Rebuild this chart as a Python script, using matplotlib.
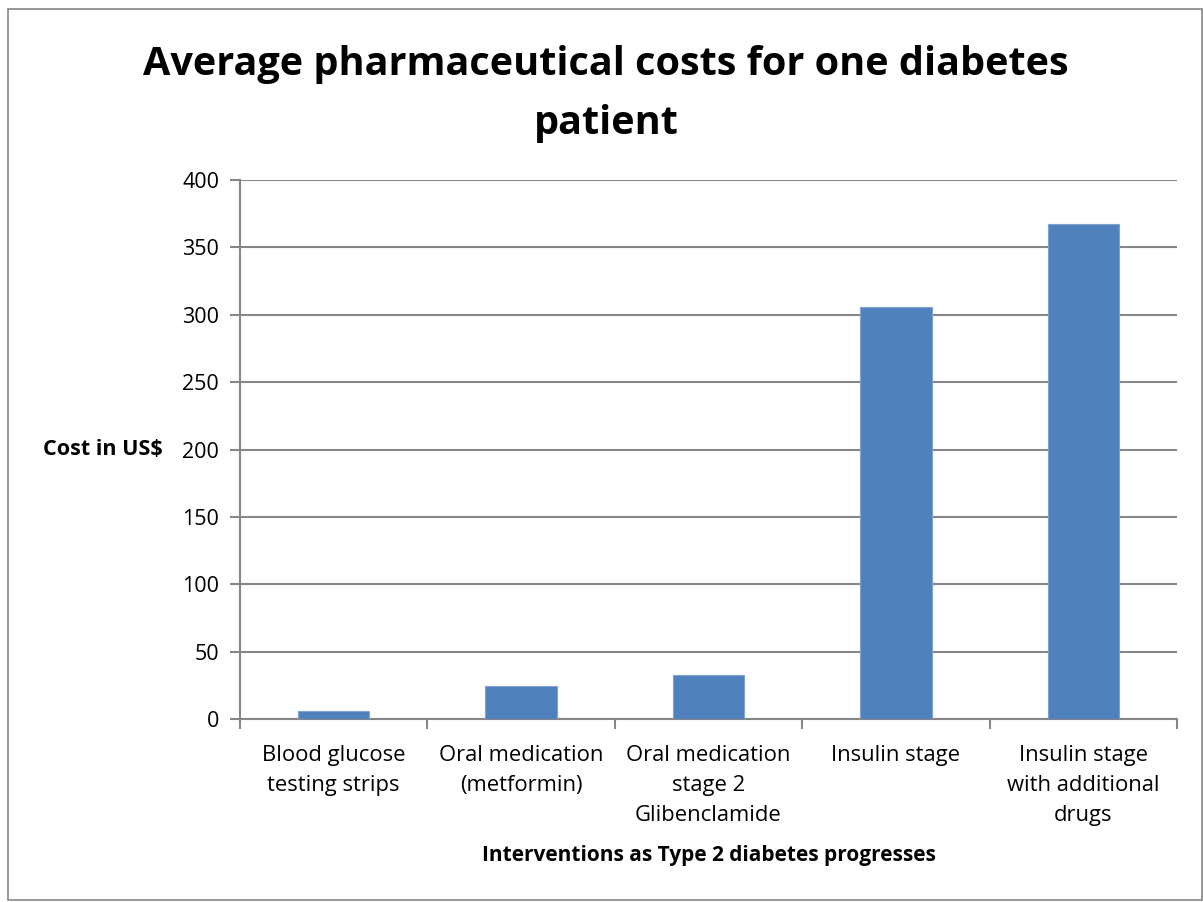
import matplotlib.pyplot as plt
from matplotlib.patches import Rectangle

plt.rcParams['font.family'] = ['Open Sans', 'DejaVu Sans']

categories = ["Blood glucose\ntesting strips", "Oral medication\n(metformin)",
              "Oral medication\nstage 2\nGlibenclamide", "Insulin stage",
              "Insulin stage\nwith additional\ndrugs"]
costs = [6, 24.5, 33, 306, 367]
y_ticks = [0, 50, 100, 150, 200, 250, 300, 350, 400]

fig = plt.figure(figsize=(12.03, 9.02), dpi=100)
ax = fig.add_axes([240 / 1203, 1 - 719 / 902, 937 / 1203, 539 / 902])

# outer chart frame
fig.patches.append(Rectangle((8 / 1203, 2 / 902), 1194 / 1203, 891 / 902,
                             transform=fig.transFigure, fill=False,
                             edgecolor="#868686", linewidth=1.2))

x = range(len(costs))
ax.bar(x, costs, width=0.38, color="#4F81BD", edgecolor="#7FA3D0",
       linewidth=0.8, zorder=3)

ax.set_xlim(-0.5, len(costs) - 0.5)
ax.set_ylim(0, 400)
ax.set_yticks(y_ticks)
ax.yaxis.grid(True, color="#868686", linewidth=1.5, zorder=0)

ax.set_xticks(list(x))
ax.set_xticklabels(categories, fontsize=15.8, linespacing=1.55)
ax.set_xticks([i - 0.5 for i in range(len(costs) + 1)], minor=True)
ax.tick_params(axis="x", which="major", length=0, pad=19)
ax.tick_params(axis="x", which="minor", length=7, width=1.5, color="#868686")
ax.tick_params(axis="y", length=7, width=1.5, color="#868686",
               labelsize=15.5, pad=8)

for side in ["top", "right"]:
    ax.spines[side].set_visible(False)
for side in ["left", "bottom"]:
    ax.spines[side].set_color("#868686")
    ax.spines[side].set_linewidth(1.5)

ax.set_ylabel("Cost in US$", rotation=0, fontsize=15.5, fontweight="bold",
              ha="right", va="center", labelpad=14)
ax.set_xlabel("Interventions as Type 2 diabetes progresses", fontsize=15,
              fontweight="bold", labelpad=14)

fig.text(606 / 1203, 1 - 94 / 902,
         "Average pharmaceutical costs for one diabetes\npatient",
         ha="center", va="center", fontsize=28.5, fontweight="bold",
         linespacing=1.65)

fig.savefig("out.png", dpi=100)
